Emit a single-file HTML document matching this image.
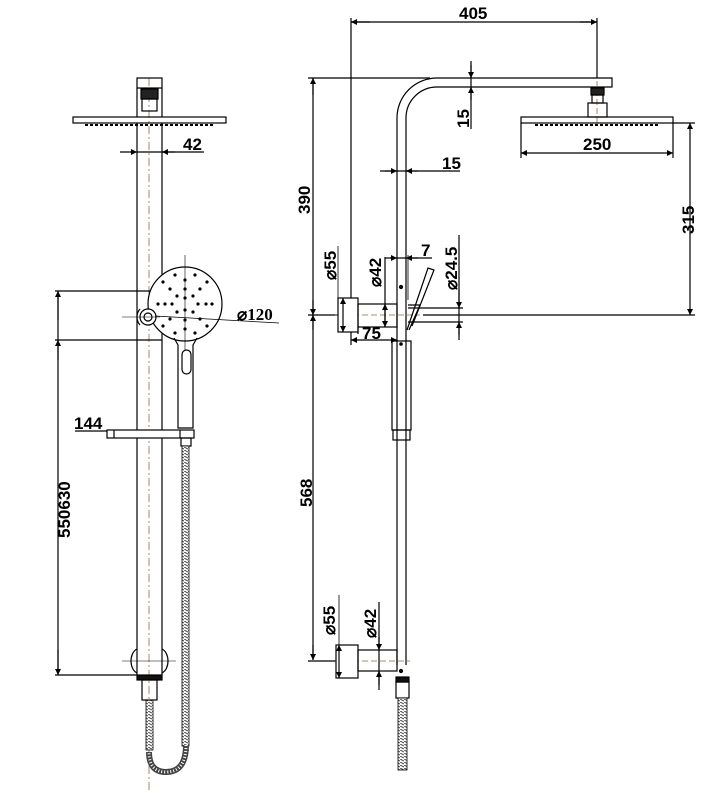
<!DOCTYPE html>
<html><head><meta charset="utf-8"><style>
html,body{margin:0;padding:0;background:#fff;}
svg{display:block}
text{font-family:"Liberation Sans",sans-serif;font-weight:bold;fill:#000;}
</style></head><body>
<svg width="705" height="793" viewBox="0 0 705 793" xmlns="http://www.w3.org/2000/svg">
<defs>
<marker id="a" viewBox="0 0 10 10" refX="10" refY="5" markerWidth="9" markerHeight="6" orient="auto-start-reverse" markerUnits="userSpaceOnUse"><path d="M0,0L10,5L0,10z" fill="#000"/></marker>
<pattern id="hose" width="4" height="3" patternUnits="userSpaceOnUse"><rect width="4" height="3" fill="#fff"/><path d="M0,0L4,2" stroke="#444" stroke-width="1"/></pattern>
</defs>
<g fill="none" stroke="#000" stroke-width="1.2">
<!-- LEFT VIEW -->
<line x1="149" y1="78" x2="149" y2="793" stroke="#8a6a4a" stroke-dasharray="8,3,2,3" stroke-width="0.8"/>
<rect x="137" y="78" width="25" height="10"/>
<line x1="137" y1="88" x2="137" y2="117"/><line x1="162" y1="88" x2="162" y2="117"/>
<rect x="141" y="89" width="17" height="10" fill="#222"/>
<rect x="142" y="99" width="15" height="12"/>
<rect x="73" y="117" width="153" height="6"/>
<line x1="85" y1="125" x2="215" y2="125" stroke-dasharray="3,2" stroke-width="2"/>
<line x1="137" y1="123" x2="137" y2="675"/><line x1="162" y1="123" x2="162" y2="675"/>
<!-- 42 dim -->
<line x1="137" y1="152" x2="204" y2="152"/>
<line x1="120" y1="152" x2="137" y2="152" marker-end="url(#a)"/>
<line x1="175" y1="152" x2="162" y2="152" marker-end="url(#a)"/>
<!-- hand shower -->
<circle cx="185" cy="304" r="37" fill="#fff"/>
<line x1="185" y1="255" x2="185" y2="350" stroke-width="0.6"/>
<circle cx="148" cy="317" r="8" fill="#fff"/><circle cx="148" cy="317" r="4"/>
<path d="M140,309 a12,12 0 0 0 0,16"/>
<line x1="122" y1="317" x2="160" y2="317" stroke-width="0.6"/>
<line x1="155" y1="316" x2="279" y2="323" stroke-width="0.8"/>
<path d="M174,338 L178,345 L178,428 L193,428 L193,345 L197,338"/>
<rect x="182" y="350" width="9" height="24" rx="4.5"/>
<!-- shelf -->
<rect x="107" y="430" width="87" height="8" fill="#fff"/>
<line x1="114" y1="430" x2="114" y2="438"/><line x1="180" y1="430" x2="180" y2="438"/>
<line x1="75" y1="431" x2="107" y2="431"/>
<rect x="181" y="438" width="10" height="8"/>
<!-- hose right -->
<rect x="182" y="446" width="7" height="300" fill="url(#hose)" stroke-width="0.8"/>
<path d="M186,745 Q186,772 166,772 Q149,772 149,752" stroke="#444" stroke-width="6"/>
<path d="M186,745 Q186,772 166,772 Q149,772 149,752" stroke="#fff" stroke-width="3" stroke-dasharray="1,2"/>
<rect x="146" y="700" width="7" height="50" fill="url(#hose)" stroke-width="0.8"/>
<rect x="137" y="675" width="25" height="5" fill="#111"/>
<rect x="142" y="680" width="15" height="20"/>
<!-- bottom bracket -->
<path d="M137,649 C129,653 129,669 137,673"/>
<path d="M162,649 C170,653 170,669 162,673"/>
<line x1="122" y1="661" x2="176" y2="661" stroke-width="0.6"/>
<!-- left dims -->
<line x1="58" y1="291" x2="58" y2="675"/>
<line x1="58" y1="320" x2="58" y2="291" marker-end="url(#a)"/>
<line x1="58" y1="360" x2="58" y2="340" marker-end="url(#a)"/>
<line x1="58" y1="650" x2="58" y2="675" marker-end="url(#a)"/>
<line x1="55" y1="291" x2="150" y2="291"/>
<line x1="55" y1="340" x2="162" y2="340"/>
<line x1="55" y1="675" x2="137" y2="675"/>

<!-- RIGHT VIEW -->
<path d="M397,665 L397,118 A40,40 0 0 1 437,78 L612,78 L612,87 L437,87 A31,31 0 0 0 406,118 L406,665"/>
<line x1="597" y1="18" x2="597" y2="125" stroke="#8a6a4a" stroke-dasharray="6,3" stroke-width="0.8"/>
<rect x="591" y="88" width="13" height="7" fill="#222"/>
<rect x="592" y="95" width="11" height="8"/>
<rect x="588" y="103" width="19" height="14"/>
<rect x="521" y="117" width="152" height="6"/>
<line x1="535" y1="125" x2="660" y2="125" stroke-dasharray="3,2" stroke-width="2"/>
<!-- 405 -->
<line x1="351" y1="22" x2="597" y2="22"/>
<line x1="370" y1="22" x2="351" y2="22" marker-end="url(#a)"/>
<line x1="580" y1="22" x2="597" y2="22" marker-end="url(#a)"/>
<line x1="351" y1="18" x2="351" y2="345"/>
<line x1="597" y1="18" x2="597" y2="78"/>
<!-- 15 vertical -->
<line x1="471" y1="61" x2="471" y2="129"/>
<line x1="471" y1="65" x2="471" y2="78" marker-end="url(#a)"/>
<line x1="471" y1="100" x2="471" y2="87" marker-end="url(#a)"/>
<!-- 250 -->
<line x1="521" y1="123" x2="521" y2="158"/><line x1="673" y1="123" x2="673" y2="158"/>
<line x1="521" y1="153" x2="673" y2="153" marker-start="url(#a)" marker-end="url(#a)"/>
<!-- 315 -->
<line x1="673" y1="123" x2="695" y2="123"/>
<line x1="690" y1="123" x2="690" y2="315" marker-start="url(#a)" marker-end="url(#a)"/>
<line x1="423" y1="315" x2="695" y2="315"/>
<!-- 390/568 -->
<line x1="308" y1="78" x2="430" y2="78"/>
<line x1="313" y1="78" x2="313" y2="660"/>
<line x1="313" y1="95" x2="313" y2="78" marker-end="url(#a)"/>
<line x1="313" y1="300" x2="313" y2="315" marker-end="url(#a)"/>
<line x1="313" y1="330" x2="313" y2="315" marker-end="url(#a)"/>
<line x1="313" y1="645" x2="313" y2="660" marker-end="url(#a)"/>
<line x1="308" y1="315" x2="340" y2="315"/>
<line x1="308" y1="661" x2="340" y2="661"/>
<line x1="335" y1="315" x2="420" y2="315" stroke="#8a6a4a" stroke-dasharray="6,3" stroke-width="0.8"/>
<line x1="335" y1="661" x2="410" y2="661" stroke="#8a6a4a" stroke-dasharray="6,3" stroke-width="0.8"/>
<!-- 15 horizontal -->
<line x1="380" y1="171" x2="460" y2="171"/>
<line x1="385" y1="171" x2="397" y2="171" marker-end="url(#a)"/>
<line x1="418" y1="171" x2="406" y2="171" marker-end="url(#a)"/>
<!-- upper bracket -->
<rect x="338" y="298" width="20" height="34" fill="#fff"/>
<rect x="358" y="304" width="39" height="23"/>
<line x1="338" y1="246" x2="338" y2="332" stroke-width="0.8"/>
<line x1="343" y1="298" x2="343" y2="332" marker-start="url(#a)" marker-end="url(#a)"/>
<line x1="385" y1="257" x2="385" y2="327"/>
<line x1="385" y1="304" x2="385" y2="327" marker-start="url(#a)" marker-end="url(#a)"/>
<!-- 7 dim -->
<line x1="390" y1="258" x2="432" y2="258"/>
<line x1="385" y1="258" x2="397" y2="258" marker-end="url(#a)"/>
<line x1="418" y1="258" x2="406" y2="258" marker-end="url(#a)"/>
<line x1="408" y1="255" x2="408" y2="300" stroke-width="0.8"/>
<!-- 24.5 -->
<line x1="459" y1="235" x2="459" y2="340"/>
<line x1="459" y1="290" x2="459" y2="308" marker-end="url(#a)"/>
<line x1="459" y1="335" x2="459" y2="322" marker-end="url(#a)"/>
<line x1="408" y1="308" x2="463" y2="308"/>
<line x1="408" y1="322" x2="463" y2="322"/>
<!-- hand shower side -->
<path d="M407,330 L428,268 L434,270 L412,326"/>
<path d="M408,305 L420,305 L409,330"/>
<circle cx="401" cy="287" r="1.5" fill="#000"/>
<!-- 75 -->
<line x1="351" y1="340" x2="397" y2="340" marker-start="url(#a)" marker-end="url(#a)"/>
<line x1="358" y1="327" x2="358" y2="334"/>
<!-- handle on rail -->
<rect x="392" y="341" width="19" height="89"/>
<circle cx="401" cy="344" r="1.2" fill="#000"/>
<rect x="393" y="430" width="17" height="10"/>
<!-- lower bracket -->
<rect x="336" y="645" width="22" height="33" fill="#fff"/>
<rect x="358" y="650" width="39" height="21"/>
<line x1="339" y1="595" x2="339" y2="678" stroke-width="0.8"/>
<line x1="339" y1="645" x2="339" y2="678" marker-start="url(#a)" marker-end="url(#a)"/>
<line x1="379" y1="602" x2="379" y2="690"/>
<line x1="379" y1="637" x2="379" y2="650" marker-end="url(#a)"/>
<line x1="379" y1="685" x2="379" y2="671" marker-end="url(#a)"/>
<circle cx="401" cy="671" r="1.5" fill="#000"/>
<rect x="396" y="677" width="13" height="5" fill="#111"/>
<rect x="396" y="682" width="13" height="16"/>
<rect x="398" y="698" width="9" height="72" fill="url(#hose)" stroke-width="0.8"/>
</g>
<!-- spray dots -->
<g fill="#000">
<circle cx="185" cy="280" r="1.6"/><circle cx="185" cy="289" r="1.6"/><circle cx="185" cy="298" r="1.6"/><circle cx="185" cy="310" r="1.6"/><circle cx="185" cy="320" r="1.6"/><circle cx="185" cy="329" r="1.6"/>
<circle cx="165" cy="304" r="1.6"/><circle cx="172" cy="304" r="1.6"/><circle cx="198" cy="304" r="1.6"/><circle cx="206" cy="304" r="1.6"/><circle cx="158" cy="304" r="1.6"/><circle cx="212" cy="304" r="1.6"/>
<circle cx="170" cy="289" r="1.6"/><circle cx="200" cy="289" r="1.6"/><circle cx="170" cy="319" r="1.6"/><circle cx="200" cy="319" r="1.6"/>
<circle cx="177" cy="296" r="1.6"/><circle cx="193" cy="296" r="1.6"/><circle cx="177" cy="312" r="1.6"/><circle cx="193" cy="312" r="1.6"/>
<circle cx="163" cy="282" r="1.6"/><circle cx="207" cy="282" r="1.6"/><circle cx="163" cy="326" r="1.6"/><circle cx="207" cy="326" r="1.6"/>
<circle cx="175" cy="275" r="1.6"/><circle cx="195" cy="275" r="1.6"/><circle cx="175" cy="333" r="1.6"/><circle cx="195" cy="333" r="1.6"/>
</g>
<!-- text -->
<text x="183" y="150" font-size="17">42</text>
<text x="237" y="320" font-size="17" font-weight="normal" style="font-family:'Liberation Serif',serif">⌀120</text>
<text x="74" y="429" font-size="17">144</text>
<text transform="translate(70,538) rotate(-90)" font-size="17">550630</text>
<text x="459" y="19" font-size="17">405</text>
<text transform="translate(469,128) rotate(-90)" font-size="17">15</text>
<text x="583" y="150" font-size="17">250</text>
<text x="442" y="169" font-size="17">15</text>
<text transform="translate(694,234) rotate(-90)" font-size="17">315</text>
<text transform="translate(310,214) rotate(-90)" font-size="17">390</text>
<text transform="translate(312,507) rotate(-90)" font-size="17">568</text>
<text x="421" y="256" font-size="17">7</text>
<text x="362" y="339" font-size="17">75</text>
<text transform="translate(336,280) rotate(-90)" font-size="17">⌀55</text>
<text transform="translate(381,287) rotate(-90)" font-size="17">⌀42</text>
<text transform="translate(457,290) rotate(-90)" font-size="17">⌀24.5</text>
<text transform="translate(335,635) rotate(-90)" font-size="17">⌀55</text>
<text transform="translate(376,638) rotate(-90)" font-size="17">⌀42</text>
</svg>
</body></html>
